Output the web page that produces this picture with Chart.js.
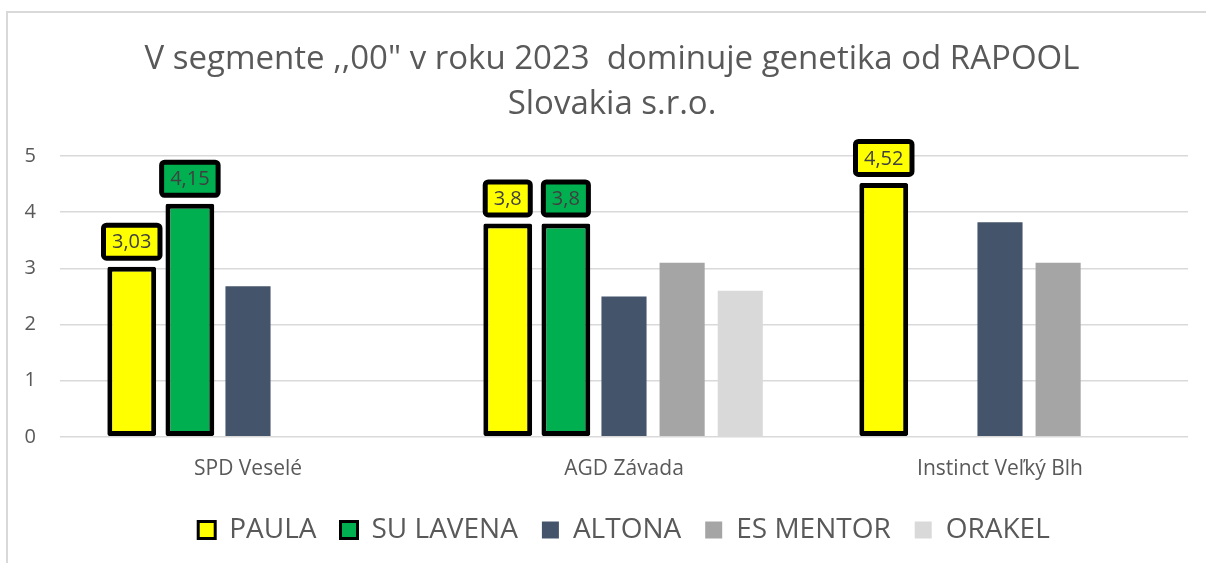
<!DOCTYPE html>
<html>
<head>
<meta charset="utf-8">
<script src="https://cdn.jsdelivr.net/npm/chart.js@4/dist/chart.umd.min.js"></script>
<style>
  html, body { margin: 0; padding: 0; background: #fff; }
  #wrap { position: relative; width: 1206px; height: 563px; }
</style>
</head>
<body>
<div id="wrap"><canvas id="chart" width="1206" height="563"></canvas></div>
<script>
// categories and series
var categories = ['SPD Veselé', 'AGD Závada', 'Instinct Veľký Blh'];
var paula     = [3.03, 3.8, 4.52];
var suLavena  = [4.15, 3.8, null];
var altona    = [2.68, 2.5, 3.82];
var esMentor  = [null, 3.1, 3.1];
var orakel    = [null, 2.6, null];
var yTicks    = [0, 1, 2, 3, 4, 5];

var txt = '#595959';
var font = "'Open Sans', 'Noto Sans', sans-serif";

// light frame of the original chart object
var framePlugin = {
    id: 'frame',
    beforeDraw: function (chart) {
        var c = chart.ctx;
        c.save();
        c.strokeStyle = '#d9d9d9';
        c.lineWidth = 2;
        c.beginPath();
        c.moveTo(7, 563);
        c.lineTo(7, 12);
        c.lineTo(1206, 12);
        c.stroke();
        c.restore();
    }
};

// boxed value labels over the highlighted bars
var boxLabels = {
    id: 'boxLabels',
    afterDatasetsDraw: function (chart) {
        var c = chart.ctx;
        c.save();
        c.font = '20px ' + font;
        c.textAlign = 'center';
        c.textBaseline = 'middle';
        chart.data.datasets.forEach(function (ds, i) {
            if (!ds.boxed) return;
            chart.getDatasetMeta(i).data.forEach(function (bar, j) {
                var v = ds.data[j];
                if (v === null || v === undefined) return;
                var label = String(v).replace('.', ',');
                var w = c.measureText(label).width + 17;
                var h = 33;
                var cx = bar.x;
                var cy = bar.y - 25;
                c.beginPath();
                c.roundRect(cx - w / 2, cy - h / 2, w, h, 3);
                c.fillStyle = ds.backgroundColor;
                c.fill();
                c.lineWidth = 5;
                c.strokeStyle = '#000';
                c.stroke();
                c.fillStyle = '#404040';
                c.fillText(label, cx, cy + 1);
            });
        });
        c.restore();
    }
};

function bordered(label, data, color) {
    return {
        label: label, data: data, boxed: true,
        backgroundColor: color, borderColor: '#000', borderWidth: 5,
        borderRadius: 2, borderSkipped: false, barPercentage: 0.84
    };
}
function plain(label, data, color) {
    return {
        label: label, data: data,
        backgroundColor: color, borderWidth: 0, barPercentage: 0.776
    };
}

new Chart(document.getElementById('chart'), {
    type: 'bar',
    data: {
        labels: categories,
        datasets: [
            bordered('PAULA', paula, '#ffff00'),
            bordered('SU LAVENA', suLavena, '#00b050'),
            plain('ALTONA', altona, '#44546a'),
            plain('ES MENTOR', esMentor, '#a5a5a5'),
            plain('ORAKEL', orakel, '#d9d9d9')
        ]
    },
    plugins: [framePlugin, boxLabels],
    options: {
        responsive: false,
        animation: false,
        datasets: { bar: { categoryPercentage: 0.773 } },
        layout: { padding: { left: 18, right: 0, top: 0, bottom: 9 } },
        scales: {
            x: {
                grid: { display: false },
                border: { display: false },
                ticks: { color: txt, font: { family: font, size: 21 }, padding: 12 },
                afterFit: function (scale) { scale.height -= 2; }
            },
            y: {
                min: 0, max: 5,
                afterBuildTicks: function (axis) {
                    axis.ticks = yTicks.map(function (v) { return { value: v }; });
                },
                afterFit: function (scale) { scale.width = 42; },
                grid: { color: '#d9d9d9', lineWidth: 1.5, drawTicks: false },
                border: { display: false },
                ticks: { color: txt, font: { family: font, size: 20 }, padding: 24 }
            },
            // empty spacer on the right so the title centres like the original
            y2: {
                type: 'linear',
                position: 'right',
                grid: { display: false },
                border: { display: false },
                ticks: { display: false },
                afterFit: function (scale) { scale.width = 18; }
            }
        },
        plugins: {
            title: {
                display: true,
                text: ['V segmente ,,00" v roku 2023  dominuje genetika od RAPOOL', 'Slovakia s.r.o.'],
                color: txt,
                font: { family: font, size: 33, weight: 'normal', lineHeight: 1.364 },
                padding: { top: 37, bottom: 29 }
            },
            legend: {
                position: 'bottom',
                fullSize: false,
                labels: {
                    color: txt,
                    font: { family: font, size: 28 },
                    boxWidth: 17, boxHeight: 17, padding: 24,
                    generateLabels: function (chart) {
                        return chart.data.datasets.map(function (ds, i) {
                            return {
                                text: ds.label,
                                fillStyle: ds.backgroundColor,
                                strokeStyle: '#000',
                                lineWidth: ds.boxed ? 3 : 0,
                                datasetIndex: i,
                                fontColor: txt
                            };
                        });
                    }
                }
            },
            tooltip: { enabled: false }
        }
    }
});
</script>
</body>
</html>
